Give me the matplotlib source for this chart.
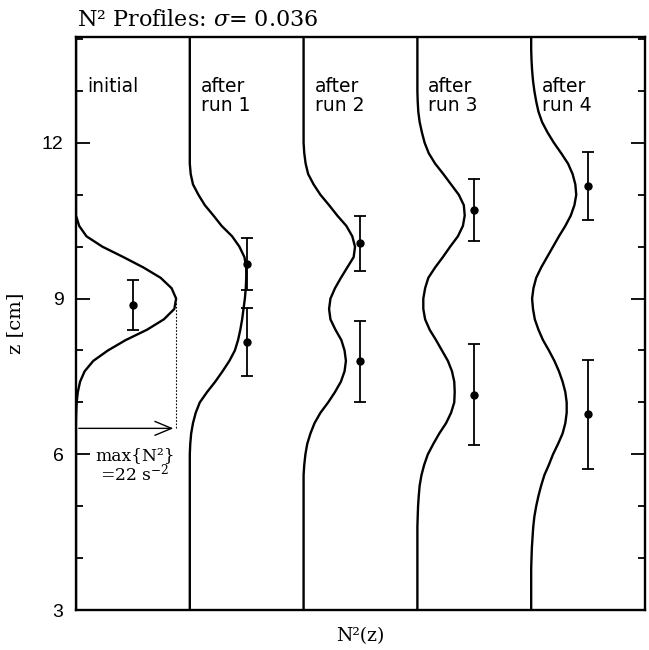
import numpy as np
import matplotlib
matplotlib.use("Agg")
import matplotlib.pyplot as plt
from matplotlib.ticker import MultipleLocator, NullLocator

plt.rcParams["mathtext.fontset"] = "dejavuserif"

# ---------------- data ----------------
z = [round(3.0 + 0.2 * i, 1) for i in range(56)]  # depth grid, cm

n2_initial = [0.0] * 19 + [0.05, 0.15, 0.4, 0.9, 1.9, 3.8, 7.0, 10.9, 15.6, 19.3,
                           21.6, 22.0, 21.0, 18.6, 14.8, 10.4, 5.8, 2.3, 0.7, 0.0] + [0.0] * 17
n2_run1 = [0.0] * 15 + [0.0, 0.1, 0.3, 0.7, 1.3, 2.2, 3.8, 5.6, 7.2, 8.7, 9.9, 10.6, 11.1,
                        11.5, 11.8, 12.1, 12.3, 12.4, 12.4, 12.0, 10.9, 9.3, 7.0, 5.2,
                        3.3, 1.9, 0.7, 0.2, 0.0] + [0.0] * 12
n2_run2 = [0.0] * 13 + [0.0, 0.15, 0.4, 0.8, 1.5, 2.4, 3.7, 5.4, 6.9, 8.2, 9.0, 9.3, 9.0,
                        8.3, 7.0, 5.9, 5.6, 5.9, 6.9, 8.2, 9.6, 11.0, 11.3, 10.7, 9.4,
                        7.4, 5.6, 3.7, 2.2, 1.0, 0.45, 0.15, 0.0] + [0.0] * 10
n2_run3 = [0.0] * 8 + [0.0, 0.07, 0.15, 0.3, 0.5, 0.9, 1.5, 2.3, 3.5, 4.8, 6.3, 7.4, 8.1,
                       8.2, 8.1, 7.6, 6.7, 5.4, 4.1, 2.7, 1.7, 1.3, 1.3, 1.7, 2.4, 3.9,
                       5.6, 7.2, 8.9, 10.0, 10.4, 10.2, 9.1, 7.4, 5.7, 3.9, 2.5, 1.6,
                       1.0, 0.5, 0.2, 0.07, 0.0] + [0.0] * 5
n2_run4 = [0.0] * 5 + [0.07, 0.15, 0.3, 0.45, 0.7, 1.1, 1.6, 2.2, 2.9, 3.9, 4.8, 5.9, 6.9,
                       7.5, 7.8, 7.8, 7.5, 6.9, 6.1, 5.1, 3.9, 2.6, 1.6, 0.8, 0.4, 0.2,
                       0.5, 1.1, 2.2, 3.5, 4.8, 6.1, 7.5, 8.7, 9.5, 9.9, 9.7, 9.1, 8.1,
                       6.6, 5.0, 3.6, 2.4, 1.6, 1.1, 0.7, 0.4, 0.2, 0.07, 0.0] + [0.0] * 1

profiles = [n2_initial, n2_run1, n2_run2, n2_run3, n2_run4]
panel_labels = ["initial", "after\nrun 1", "after\nrun 2", "after\nrun 3", "after\nrun 4"]

# measured interface positions (cm) with error half-widths
meas_z = [[8.87], [9.67, 8.16], [10.07, 7.79], [10.71, 7.15], [11.17, 6.77]]
meas_err = [[0.48], [0.50, 0.65], [0.53, 0.78], [0.60, 0.97], [0.66, 1.05]]

max_n2 = 22.0
arrow_z = 6.5
panel_w = 25.0

# ---------------- figure ----------------
fig = plt.figure(figsize=(6.49, 6.50), dpi=100)
ax = fig.add_axes([0.1171, 0.0615, 0.8767, 0.8816])

for i, prof in enumerate(profiles):
    x = np.array(prof) + i * panel_w
    ax.plot(x, z, color="black", lw=1.7, solid_joinstyle="round")
    xc = i * panel_w + panel_w / 2
    ax.errorbar([xc] * len(meas_z[i]), meas_z[i], yerr=meas_err[i], fmt="o",
                color="black", ms=5, elinewidth=1.3, capsize=4.5, capthick=1.3)
    ax.text(i * panel_w + 2.4, 13.27, panel_labels[i], fontsize=13.5, fontweight="medium",
            family="DejaVu Sans", ha="left", va="top", linespacing=1.0)

# annotation of the maximum
ax.plot([max_n2, max_n2], [arrow_z, 8.94], color="black", lw=0.8, ls=(0, (1.5, 1.5)))
ax.annotate("", xy=(max_n2, arrow_z), xytext=(0, arrow_z),
            arrowprops=dict(arrowstyle="->,head_length=1.2,head_width=0.5",
                            color="black", lw=1.0))
ax.text(12.9, 5.98, "max{N²}", fontsize=12.3, family="DejaVu Serif", ha="center", va="center")
ax.text(12.9, 5.64, "=22 s$^{-2}$", fontsize=12.3, family="DejaVu Serif", ha="center", va="center")

ax.set_xlim(0, 5 * panel_w)
ax.set_ylim(3, 14.04)
ax.xaxis.set_major_locator(NullLocator())
ax.yaxis.set_major_locator(MultipleLocator(3))
ax.yaxis.set_minor_locator(MultipleLocator(1))
ax.tick_params(axis="y", which="both", direction="in", left=True, right=True, width=1.3)
ax.tick_params(axis="y", which="major", length=10, labelsize=14, pad=9)
ax.tick_params(axis="y", which="minor", length=5)
for lab in ax.get_yticklabels():
    lab.set_family("Liberation Sans")
for s in ax.spines.values():
    s.set_linewidth(1.7)

ax.set_ylabel("z [cm]", fontsize=14, family="DejaVu Serif", labelpad=13)
ax.set_xlabel("N²(z)", fontsize=13.5, family="DejaVu Serif", labelpad=12)
fig.text(0.119, 0.969, "N² Profiles: $\\sigma$= 0.036", fontsize=16,
         family="DejaVu Serif", ha="left", va="center")

fig.savefig("out.png", dpi=100)
